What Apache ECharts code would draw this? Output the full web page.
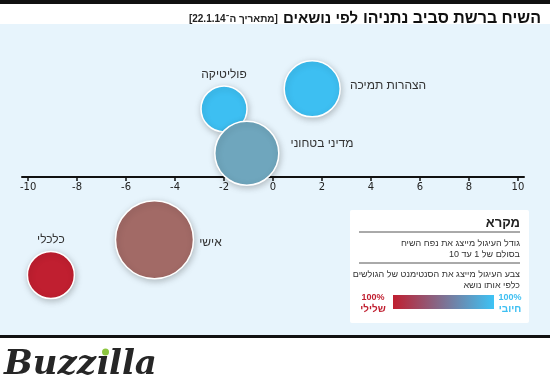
<!DOCTYPE html>
<html dir="rtl"><head><meta charset="utf-8">
<script src="https://cdn.jsdelivr.net/npm/echarts@6/dist/echarts.min.js"></script>
<style>html,body{margin:0;padding:0;background:#fff}#c{width:550px;height:392px}</style>
</head><body><div id="c"></div><script>
// Data
const topics = ['הצהרות תמיכה', 'פוליטיקה', 'מדיני בטחוני', 'אישי', 'כלכלי'];
const sentimentX = [1.6, -2.0, -1.07, -4.84, -9.07];
const verticalY = [3.6, 2.78, 0.97, -2.56, -4.0];
const volume = [5.6, 4.6, 6.4, 7.8, 4.7];
const bubbleColors = ['#3dbff2', '#3dbff2', '#6fa6bd', '#a26a66', '#c01f30'];
const xTicks = [-10, -8, -6, -4, -2, 0, 2, 4, 6, 8, 10];

const FONT = 'Liberation Sans, DejaVu Sans, sans-serif';
const labelPos = [
  {position: 'right', distance: 9, offset: [0, -3]},
  {position: 'top', distance: 4},
  {position: 'right', distance: 11, offset: [0, -10]},
  {position: 'right', distance: 5, offset: [0, 3]},
  {position: 'top', distance: 5}
];

const data = topics.map((t, i) => ({
  name: t,
  value: [sentimentX[i], verticalY[i], volume[i]],
  itemStyle: {color: bubbleColors[i]},
  label: Object.assign({show: true, formatter: '{b}', color: '#333', fontSize: 12, fontFamily: FONT}, labelPos[i])
}));

// logo: measure to place the green dot over the (dotless) i
const LOGO_FONT = 'italic bold 34px DejaVu Serif';
const mctx = document.createElement('canvas').getContext('2d');
mctx.font = LOGO_FONT;
const wBuzz = mctx.measureText('Buzz').width;
const wI = mctx.measureText('\u0131').width;
const logoX = 4;

const T = (x, y, text, font, fill, align) => ({type: 'text', z: 2, style: {x: x, y: y, text: text, align: align || 'right', verticalAlign: 'middle', font: font, fill: fill}});

const chart = echarts.init(document.getElementById('c'), null, {renderer: 'canvas'});
chart.setOption({
  backgroundColor: '#ffffff',
  animation: false,
  title: {
    right: 4, top: 5,
    text: '{d|[מתאריך ה־22.1.14]} {r|לפי נושאים} {b|השיח ברשת סביב נתניהו}',
    textStyle: {
      rich: {
        d: {fontSize: 10, color: '#222', fontFamily: FONT},
        r: {fontSize: 15, color: '#111', fontFamily: FONT},
        b: {fontSize: 16, color: '#111', fontWeight: 'bold', fontFamily: FONT}
      }
    }
  },
  grid: {left: 22, right: 26, top: 30, bottom: 215},
  xAxis: {
    type: 'value', min: -10.25, max: 10.25,
    splitLine: {show: false},
    axisLine: {lineStyle: {color: '#111', width: 2}},
    axisTick: {show: true, length: 4, customValues: xTicks, lineStyle: {color: '#111', width: 1.5}},
    axisLabel: {customValues: xTicks, formatter: v => '\u200E' + v, color: '#222', fontSize: 10, margin: 5, fontFamily: 'DejaVu Sans'}
  },
  yAxis: {
    type: 'value', min: 0, max: 6, show: false, splitLine: {show: false}
  },
  graphic: [
    {type: 'rect', z: -10, silent: true, shape: {x: 0, y: 24, width: 550, height: 311}, style: {fill: '#e7f4fc'}},
    {type: 'rect', z: -10, silent: true, shape: {x: 0, y: 0, width: 550, height: 4}, style: {fill: '#111'}},
    {type: 'rect', z: -10, silent: true, shape: {x: 0, y: 335, width: 550, height: 3}, style: {fill: '#111'}},
    {type: 'rect', z: 1, shape: {x: 350, y: 210, width: 179, height: 113, r: 2}, style: {fill: '#ffffff'}},
    T(520, 223, 'מקרא', 'bold 13px ' + FONT, '#222'),
    {type: 'line', z: 2, shape: {x1: 359, y1: 232, x2: 520, y2: 232}, style: {stroke: '#555', lineWidth: 1}},
    T(520, 244, 'גודל העיגול מייצג את נפח השיח', '9px ' + FONT, '#333'),
    T(520, 255, 'בסולם של 1 עד 10', '9px ' + FONT, '#333'),
    {type: 'line', z: 2, shape: {x1: 359, y1: 263, x2: 520, y2: 263}, style: {stroke: '#555', lineWidth: 1}},
    T(520, 275, 'צבע העיגול מייצג את הסנטימנט של הגולשים', '9px ' + FONT, '#333'),
    T(520, 286, 'כלפי אותו נושא', '9px ' + FONT, '#333'),
    {type: 'rect', z: 2, shape: {x: 393, y: 295, width: 101, height: 14}, style: {fill: new echarts.graphic.LinearGradient(0, 0, 1, 0, [{offset: 0, color: '#c01f30'}, {offset: 1, color: '#3dc3f5'}])}},
    T(373, 298, '100%', 'bold 9px ' + FONT, '#c01f30', 'center'),
    T(373, 309, 'שלילי', 'bold 10px ' + FONT, '#c01f30', 'center'),
    T(510, 298, '100%', 'bold 9px ' + FONT, '#3dbff2', 'center'),
    T(510, 309, 'חיובי', 'bold 10px ' + FONT, '#3dbff2', 'center'),
    {type: 'text', z: 2, style: {x: logoX, y: 365, text: 'Buzz\u0131lla', align: 'left', verticalAlign: 'middle', font: LOGO_FONT, fill: '#262626'}},
    {type: 'circle', z: 3, shape: {cx: logoX + wBuzz + wI / 2 + 3, cy: 352, r: 3.5}, style: {fill: '#8cc63f'}}
  ],
  series: [{
    type: 'scatter',
    clip: false,
    data: data,
    symbolSize: v => v[2] * 10,
    itemStyle: {opacity: 1, borderColor: '#ffffff', borderWidth: 1.5, shadowBlur: 6, shadowColor: 'rgba(0,0,0,0.22)', shadowOffsetX: 1, shadowOffsetY: 2},
    emphasis: {disabled: true}
  }]
});
</script></body></html>
